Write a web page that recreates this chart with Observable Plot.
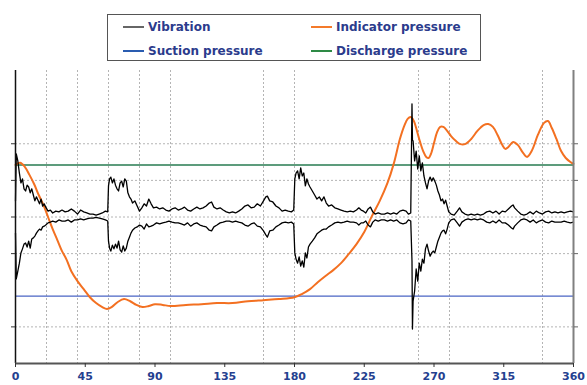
<!DOCTYPE html>
<html>
<head>
<meta charset="utf-8">
<script src="https://cdn.jsdelivr.net/npm/d3@7"></script>
<script src="https://cdn.jsdelivr.net/npm/@observablehq/plot@0.6"></script>
<style>
  html, body { margin: 0; padding: 0; background: #fff; }
  #wrap { position: relative; width: 587px; height: 385px; font-family: "DejaVu Sans", sans-serif; }
  #wrap svg { position: absolute; left: 0; top: 0; }
  #legend { position: absolute; left: 107px; top: 14px; width: 374px; height: 47px; border: 1px solid #555; background: #fff; box-sizing: border-box; }
  .item { position: absolute; display: flex; align-items: center; height: 16px; font-weight: bold; font-size: 12px; color: #2b3b8c; white-space: nowrap; }
  .sw { width: 21px; height: 2px; margin-right: 4px; }
</style>
</head>
<body>
<div id="wrap">
  <div id="legend"></div>
</div>
<script>
// ---- data ----
const angleTicks = [0, 45, 90, 135, 180, 225, 270, 315, 360];
const gridAngles = [20, 40, 60, 80, 100, 160, 180, 260, 280, 340];
const gridLevels = [2, 1, 0, -1, -3];
const axisLevels = [2, 1, 0, -1, -3];
const dischargeLevel = 1.42;
const suctionLevel = -2.16;

const legendNames = ["Vibration", "Indicator pressure", "Suction pressure", "Discharge pressure"];
const legendColors = ["#666666", "#f47a2a", "#2a5cb0", "#2e8a45"];

const indAngle = [0, 3, 6, 9, 12, 15, 18, 21, 24, 27, 30, 33, 36, 40, 44, 48, 52, 56, 59, 62, 66, 70, 74, 78, 82, 86, 90, 95, 100, 110, 120, 130, 140, 150, 160, 170, 180, 185, 190, 195, 200, 205, 210, 215, 220, 225, 230, 235, 240, 244, 248, 251, 253, 255, 257, 259, 261, 263, 265, 266.5, 268, 270, 272, 274, 276, 278, 281, 284, 287, 290, 294, 298, 302, 305, 308, 311, 314, 316, 318, 321, 324, 327, 330, 333, 337, 341, 343.5, 346, 349, 352, 355, 358, 360];
const indValue = [1.42, 1.48, 1.37, 1.15, 0.90, 0.60, 0.33, 0.0, -0.33, -0.63, -0.93, -1.17, -1.48, -1.75, -1.97, -2.19, -2.35, -2.46, -2.51, -2.46, -2.32, -2.24, -2.30, -2.40, -2.46, -2.43, -2.38, -2.40, -2.43, -2.40, -2.38, -2.35, -2.35, -2.30, -2.27, -2.24, -2.19, -2.10, -1.97, -1.78, -1.61, -1.45, -1.26, -1.01, -0.74, -0.41, 0.03, 0.44, 0.93, 1.45, 2.13, 2.51, 2.68, 2.73, 2.62, 2.35, 2.05, 1.80, 1.64, 1.61, 1.72, 2.02, 2.32, 2.46, 2.46, 2.38, 2.21, 2.08, 1.99, 1.99, 2.13, 2.35, 2.51, 2.54, 2.46, 2.24, 1.97, 1.86, 1.91, 2.05, 1.97, 1.78, 1.64, 1.80, 2.24, 2.57, 2.62, 2.43, 2.13, 1.80, 1.61, 1.50, 1.45];

// vibration signal envelope: [angle, upper edge, lower edge]
const vibrationRows = [
  [0, 0.44, -0.44], [0.5, 1.72, -1.69], [1.5, 1.53, -1.48], [2.5, 1.20, -1.26], [3.5, 0.93, -0.98],
  [4.5, 1.04, -0.87], [5.5, 0.77, -0.74], [6.5, 0.71, -0.71], [7.5, 0.87, -0.82], [8.5, 0.82, -0.66],
  [9.5, 0.66, -0.85], [10.5, 0.77, -0.60], [11.5, 0.60, -0.57], [12.5, 0.44, -0.52], [13.5, 0.55, -0.44],
  [14.5, 0.46, -0.38], [15.5, 0.36, -0.33], [16.5, 0.49, -0.36], [17.5, 0.30, -0.27], [18.5, 0.36, -0.25],
  [19.5, 0.27, -0.22], [21, 0.16, -0.16], [22.5, 0.19, -0.14], [24, 0.11, -0.11], [26, 0.16, -0.14],
  [28, 0.14, -0.08], [30, 0.19, -0.11], [32, 0.14, -0.11], [34, 0.16, -0.08], [36, 0.22, -0.14],
  [38, 0.16, -0.08], [40, 0.08, -0.08], [42, 0.19, -0.05], [44, 0.14, -0.08], [46, 0.11, -0.05],
  [48, 0.08, -0.03], [50, 0.08, -0.03], [52, 0.05, -0.01], [54, 0.08, -0.03], [56, 0.11, -0.05],
  [58, 0.16, -0.08], [59.5, 0.14, -0.11], [60, 0.85, -0.66], [60.7, 1.04, -0.85], [61.5, 1.09, -0.93],
  [62.5, 0.93, -0.77], [63.5, 1.04, -0.87], [64.5, 0.87, -0.74], [65.5, 0.77, -0.85], [66.5, 0.71, -0.66],
  [67.5, 0.93, -0.90], [68.5, 0.98, -0.96], [69.5, 0.82, -0.79], [70.5, 1.04, -0.93], [71.5, 0.98, -0.85],
  [72.5, 0.66, -0.66], [73.5, 0.55, -0.55], [74.5, 0.49, -0.44], [75.5, 0.38, -0.36], [77, 0.44, -0.30],
  [78.5, 0.30, -0.27], [80, 0.16, -0.22], [81.5, 0.25, -0.25], [83, 0.36, -0.33], [84.5, 0.30, -0.19],
  [86, 0.49, -0.27], [87.5, 0.36, -0.25], [89, 0.25, -0.22], [91, 0.27, -0.16], [93, 0.22, -0.19],
  [95, 0.25, -0.16], [97, 0.19, -0.14], [99, 0.16, -0.11], [101, 0.22, -0.14], [103, 0.25, -0.16],
  [105, 0.19, -0.16], [107, 0.22, -0.19], [109, 0.27, -0.22], [111, 0.19, -0.16], [113, 0.16, -0.25],
  [115, 0.22, -0.19], [117, 0.27, -0.16], [119, 0.22, -0.22], [121, 0.25, -0.25], [123, 0.30, -0.27],
  [125, 0.38, -0.36], [126.5, 0.41, -0.38], [128, 0.27, -0.27], [130, 0.22, -0.22], [132, 0.25, -0.16],
  [134, 0.19, -0.14], [136, 0.14, -0.11], [138, 0.11, -0.11], [140, 0.14, -0.14], [142, 0.11, -0.11],
  [144, 0.16, -0.14], [146, 0.22, -0.16], [148, 0.30, -0.22], [150, 0.33, -0.25], [152, 0.25, -0.19],
  [154, 0.27, -0.16], [156, 0.36, -0.25], [158, 0.30, -0.27], [160, 0.44, -0.38], [161.5, 0.55, -0.49],
  [162.5, 0.57, -0.55], [164, 0.44, -0.38], [166, 0.41, -0.36], [168, 0.30, -0.27], [170, 0.25, -0.22],
  [172, 0.16, -0.16], [174, 0.19, -0.14], [176, 0.16, -0.16], [178, 0.14, -0.14], [179.5, 0.19, -0.19],
  [180.2, 1.04, -0.98], [181, 1.20, -1.15], [182, 1.26, -1.26], [183, 1.04, -1.09], [184, 1.34, -1.34],
  [185, 1.12, -1.20], [186, 1.20, -1.37], [187, 0.85, -0.98], [188, 1.04, -1.12], [189, 0.90, -0.82],
  [190, 0.82, -0.74], [191.5, 0.71, -0.66], [193, 0.60, -0.57], [194.5, 0.49, -0.46], [196, 0.55, -0.41],
  [197.5, 0.44, -0.36], [199, 0.55, -0.33], [200.5, 0.38, -0.33], [202, 0.30, -0.27], [204, 0.33, -0.22],
  [206, 0.25, -0.16], [208, 0.22, -0.14], [210, 0.19, -0.16], [212, 0.16, -0.14], [214, 0.14, -0.11],
  [216, 0.16, -0.14], [218, 0.14, -0.14], [220, 0.19, -0.16], [221.5, 0.25, -0.22], [223, 0.19, -0.16],
  [224.5, 0.16, -0.16], [226, 0.11, -0.11], [227.5, 0.22, -0.22], [229, 0.27, -0.27], [230.5, 0.14, -0.14],
  [232, 0.08, -0.08], [234, 0.11, -0.11], [236, 0.08, -0.08], [238, 0.08, -0.08], [240, 0.11, -0.11],
  [242, 0.08, -0.08], [244, 0.11, -0.11], [246, 0.08, -0.08], [248, 0.16, -0.16], [250, 0.19, -0.19],
  [252, 0.16, -0.16], [253.5, 0.08, -0.08], [255, 0.11, -0.11], [255.8, 3.09, -1.20], [256.1, 2.10, -3.06],
  [256.5, 2.08, -2.30], [257.5, 1.53, -2.02], [258.5, 1.80, -1.42], [259.5, 1.31, -1.75], [260.5, 1.67, -1.26],
  [261.5, 1.26, -1.48], [262.5, 1.48, -1.15], [263.5, 1.12, -1.26], [264.5, 0.93, -0.87], [265.5, 0.77, -0.74],
  [266.5, 0.98, -0.93], [267.5, 1.09, -1.07], [268.5, 0.98, -0.98], [269.5, 1.07, -0.93], [270.5, 0.98, -0.98],
  [271.5, 0.87, -0.82], [272.5, 0.71, -0.66], [273.5, 0.60, -0.55], [274.5, 0.44, -0.44], [275.5, 0.49, -0.38],
  [276.5, 0.36, -0.36], [277.5, 0.46, -0.46], [278.5, 0.30, -0.33], [279.5, 0.14, -0.16], [281, 0.08, -0.08],
  [283, 0.05, -0.05], [285, 0.16, -0.16], [286.5, 0.25, -0.25], [288, 0.14, -0.14], [290, 0.08, -0.08],
  [292, 0.05, -0.05], [294, 0.08, -0.08], [296, 0.05, -0.05], [298, 0.08, -0.08], [300, 0.05, -0.05],
  [302, 0.08, -0.08], [304, 0.14, -0.14], [306, 0.16, -0.16], [308, 0.11, -0.11], [310, 0.16, -0.16],
  [312, 0.08, -0.08], [314, 0.16, -0.16], [316, 0.14, -0.16], [318, 0.22, -0.22], [320, 0.30, -0.30],
  [321, 0.33, -0.33], [322, 0.25, -0.25], [324, 0.16, -0.16], [326, 0.08, -0.08], [328, 0.05, -0.05],
  [330, 0.08, -0.08], [332, 0.14, -0.14], [334, 0.08, -0.08], [336, 0.16, -0.16], [338, 0.11, -0.11],
  [340, 0.08, -0.08], [342, 0.14, -0.14], [344, 0.16, -0.16], [346, 0.11, -0.11], [348, 0.14, -0.14],
  [350, 0.11, -0.14], [352, 0.14, -0.14], [354, 0.11, -0.11], [356, 0.14, -0.14], [358, 0.16, -0.16],
  [360, 0.14, -0.14]
];

const indicator = indAngle.map((a, i) => ({angle: a, value: indValue[i]}));
const vib = vibrationRows.map(r => ({angle: r[0], up: r[1], lo: r[2]}));

const dotted = {stroke: "#b4b4b4", strokeOpacity: 1, strokeDasharray: "2,2", strokeWidth: 1};

const chart = Plot.plot({
  width: 587,
  height: 385,
  marginTop: 70,
  marginBottom: 22,
  marginLeft: 15,
  marginRight: 14,
  style: {fontFamily: "DejaVu Sans, sans-serif", background: "transparent", overflow: "visible"},
  x: {domain: [0, 360], label: null},
  y: {domain: [-4, 4], label: null},
  marks: [
    Plot.gridX(gridAngles, dotted),
    Plot.gridY(gridLevels, dotted),
    Plot.ruleY([suctionLevel], {stroke: "#4a64c4", strokeWidth: 1.3}),
    Plot.ruleY([dischargeLevel], {stroke: "#5d9c7c", strokeWidth: 2.2}),
    Plot.line(indicator, {x: "angle", y: "value", stroke: "#f37021", strokeWidth: 2, curve: "catmull-rom"}),
    Plot.line(vib, {x: "angle", y: "up", stroke: "#000", strokeWidth: 1.3}),
    Plot.line(vib, {x: "angle", y: "lo", stroke: "#000", strokeWidth: 1.3}),
    Plot.ruleX([0], {stroke: "#111", strokeWidth: 1.5}),
    Plot.ruleX([360], {stroke: "#808080", strokeWidth: 2}),
    Plot.ruleY([-4], {stroke: "#555", strokeWidth: 2}),
    Plot.axisY({ticks: axisLevels, anchor: "left", tickSize: 4, tickFormat: () => "", label: null, stroke: "#333"}),
    Plot.axisY({ticks: axisLevels, anchor: "right", tickSize: 4, tickFormat: () => "", label: null, stroke: "#666"}),
    Plot.axisX({ticks: angleTicks, tickSize: 4, tickPadding: 5, label: null, fontSize: 11, fontWeight: "bold", fill: "#24408f", stroke: "#333"})
  ]
});
document.getElementById("wrap").appendChild(chart);

// legend
const legend = document.getElementById("legend");
const pos = [[15, 4], [203, 4], [15, 28], [203, 28]];
legendNames.forEach((name, i) => {
  const it = document.createElement("div");
  it.className = "item";
  it.style.left = pos[i][0] + "px";
  it.style.top = pos[i][1] + "px";
  const sw = document.createElement("span");
  sw.className = "sw";
  sw.style.background = legendColors[i];
  const tx = document.createElement("span");
  tx.textContent = name;
  it.appendChild(sw);
  it.appendChild(tx);
  legend.appendChild(it);
});
</script>
</body>
</html>
